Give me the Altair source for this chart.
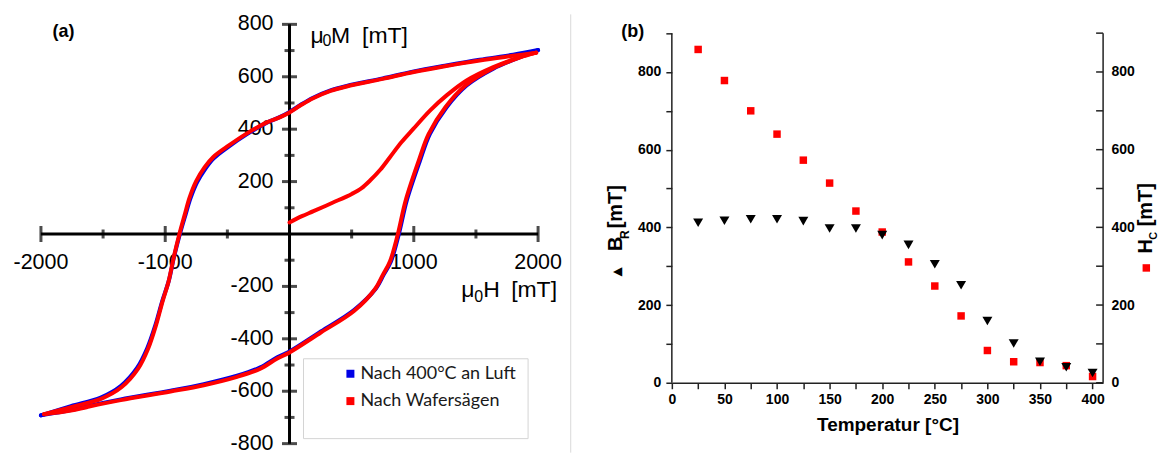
import altair as alt
import pandas as pd

FONT = "Liberation Sans"
BLUE = "#0000e6"
RED = "#ff0000"
AXC = "#222222"
S_BLUE = "Nach 400°C an Luft"
S_RED = "Nach Wafersägen"

# ---------------- panel (a): hysteresis loops ----------------
blue_up_H = [2000, 1800, 1530, 1250, 1000, 750, 460, 330, 190, 90, 0, -75, -182, -342, -503, -610,
             -676, -743, -797, -837, -882, -930, -971, -1024, -1078, -1144, -1225, -1358, -1519, -1759, -2000]
blue_up_M = [702, 684, 665, 642, 620, 594, 565, 548, 520, 493, 466, 447, 425, 381, 329, 289,
             250, 198, 136, 73, 0, -89, -178, -256, -346, -435, -510, -580, -624, -657, -692]
blue_lo_H = [-2000, -1759, -1626, -1358, -957, -690, -422, -235, -102, 0, 252, 519, 697, 757, 816,
             880, 943, 1050, 1130, 1264, 1425, 1640, 1854, 2000]
blue_lo_M = [-692, -672, -657, -631, -598, -573, -541, -509, -471, -448, -372, -290, -207, -156, -105,
             0, 127, 280, 382, 484, 567, 631, 675, 702]

red_up_H = [1985, 1800, 1530, 1250, 1000, 750, 460, 330, 190, 90, 0, -75, -182, -342, -503, -615,
            -684, -752, -805, -843, -886, -932, -972, -1022, -1074, -1138, -1218, -1350, -1512, -1750, -1975]
red_up_M = [692, 680, 662, 640, 618, 592, 563, 546, 518, 491, 464, 446, 426, 384, 333, 293,
            254, 201, 138, 74, 0, -90, -179, -258, -348, -438, -514, -584, -628, -660, -688]
red_lo_H = [-1975, -1759, -1626, -1358, -957, -690, -422, -235, -102, 0, 252, 519, 690, 750, 808,
            872, 934, 1040, 1120, 1254, 1415, 1630, 1850, 1985]
red_lo_M = [-688, -674, -660, -634, -601, -577, -545, -514, -476, -452, -376, -294, -209, -157, -105,
            0, 127, 280, 382, 484, 567, 631, 673, 692]
red_virgin_H = [0, 100, 193, 350, 501, 580, 648, 730, 808, 900, 996, 1130, 1264, 1425, 1640, 1854, 1985]
red_virgin_M = [44, 68, 87, 120, 153, 175, 204, 245, 293, 350, 401, 471, 529, 586, 637, 675, 692]

x_major = [-2000, -1000, 1000, 2000]
x_minor = [-1500, -500, 500, 1500]
y_major = [800, 600, 400, 200, -200, -400, -600, -800]
y_minor = [700, 500, 300, 100, -100, -300, -500, -700]
x_labels = ["-2000", "-1000", "1000", "2000"]
y_labels = ["800", "600", "400", "200", "-200", "-400", "-600", "-800"]

# ---------------- panel (b): remanence / coercivity ----------------
temps = [25, 50, 75, 100, 125, 150, 175, 200, 225, 250, 275, 300, 325, 350, 375, 400]
hc_vals = [858, 778, 700, 640, 573, 514, 442, 388, 311, 249, 172, 83, 54, 52, 44, 16]
br_vals = [412, 417, 421, 421, 416, 397, 397, 380, 355, 305, 251, 159, 101, 54, 40, 25]
x_ticks_b = [0, 25, 50, 75, 100, 125, 150, 175, 200, 225, 250, 275, 300, 325, 350, 375, 400]
y_ticks_b = [0, 100, 200, 300, 400, 500, 600, 700, 800, 900]


def branch(series, name, H, M):
    return [{"series": series, "branch": name, "i": i, "H": h, "M": m}
            for i, (h, m) in enumerate(zip(H, M))]


blue_df = pd.DataFrame(branch(S_BLUE, "up", blue_up_H, blue_up_M) +
                       branch(S_BLUE, "lo", blue_lo_H, blue_lo_M))
red_df = pd.DataFrame(branch(S_RED, "up", red_up_H, red_up_M) +
                      branch(S_RED, "lo", red_lo_H, red_lo_M) +
                      branch(S_RED, "virgin", red_virgin_H, red_virgin_M))

AW, AH = 498, 420
xa = alt.Scale(domain=[-2000, 2000], nice=False, zero=False)
ya = alt.Scale(domain=[-800, 800], nice=False, zero=False)
XA = alt.X("H:Q", scale=xa, axis=None)
YA = alt.Y("M:Q", scale=ya, axis=None)

color = alt.Color("series:N", scale=alt.Scale(domain=[S_BLUE, S_RED], range=[BLUE, RED]),
                  legend=None)


def curve(df):
    return alt.Chart(df).mark_line(strokeWidth=4, interpolate="catmull-rom",
                                   strokeCap="round", strokeJoin="round").encode(
        x=XA, y=YA, color=color, detail="branch:N", order="i:Q")


def one():
    return pd.DataFrame({"a": [0]})


def note(text, x, y, size, weight="normal", align="left", baseline="alphabetic",
         angle=0, font=FONT, color="black"):
    return alt.Chart(one()).mark_text(
        text=text, x=x, y=y, fontSize=size, fontWeight=weight, align=align,
        baseline=baseline, angle=angle, font=font, color=color)


axis_x_line = alt.Chart(pd.DataFrame({"H": [-2000], "H2": [2000], "M": [0]})).mark_rule(
    color="black", strokeWidth=3).encode(x=XA, x2="H2:Q", y=YA)
axis_y_line = alt.Chart(pd.DataFrame({"H": [0], "M": [-800], "M2": [800]})).mark_rule(
    color="black", strokeWidth=3).encode(x=XA, y=YA, y2="M2:Q")
xt_major = alt.Chart(pd.DataFrame({"H": x_major, "M": [0] * len(x_major)})).mark_tick(
    orient="vertical", size=16, thickness=3, color="black").encode(x=XA, y=YA)
xt_minor = alt.Chart(pd.DataFrame({"H": x_minor, "M": [0] * len(x_minor)})).mark_tick(
    orient="vertical", size=9, thickness=3, color="black").encode(x=XA, y=YA)
yt_major = alt.Chart(pd.DataFrame({"H": [0] * len(y_major), "M": y_major})).mark_tick(
    orient="horizontal", size=15, thickness=3, color="black").encode(x=XA, y=YA)
yt_minor = alt.Chart(pd.DataFrame({"H": [0] * len(y_minor), "M": y_minor})).mark_tick(
    orient="horizontal", size=10, thickness=3, color="black").encode(x=XA, y=YA)
xlab = alt.Chart(pd.DataFrame({"H": x_major, "M": [0] * 4, "lab": x_labels})).mark_text(
    dy=29, fontSize=21.5, font=FONT, color="black", baseline="middle").encode(
    x=XA, y=YA, text="lab:N")
ylab = alt.Chart(pd.DataFrame({"H": [0] * 8, "M": y_major, "lab": y_labels})).mark_text(
    dx=-16, fontSize=21.5, font=FONT, color="black", align="right", baseline="middle").encode(
    x=XA, y=YA, text="lab:N")

legend_box = alt.Chart(one()).mark_rect(
    x=263, x2=488, y=335, y2=415, fill="white", stroke="#d4d4d4", strokeWidth=1)
leg_blue = alt.Chart(one()).mark_point(shape="square", filled=True, size=64, color=BLUE,
                                       opacity=1, x=310, y=350)
leg_red = alt.Chart(one()).mark_point(shape="square", filled=True, size=64, color=RED,
                                      opacity=1, x=310, y=377.4)
separator = alt.Chart(one()).mark_rule(color="#d9d9d9", strokeWidth=1).encode(
    x=alt.value(530.7), y=alt.value(-10), y2=alt.value(429))

panel_a = alt.layer(
    separator, axis_x_line, axis_y_line, xt_major, xt_minor, yt_major, yt_minor, xlab, ylab,
    curve(blue_df), curve(red_df), legend_box, leg_blue, leg_red,
    note(S_BLUE, 320, 350, 18, baseline="middle", font="Lato", color="#1a1a1a"),
    note(S_RED, 320, 377.4, 18, baseline="middle", font="Lato", color="#1a1a1a"),
    note("(a)", 22.5, 7.7, 18, weight="bold", align="center", baseline="middle"),
    note("μ", 270, 18.4, 23), note("0", 282, 21.9, 16), note("M", 290.5, 18.4, 23),
    note("[mT]", 321.7, 18.4, 23),
    note("μ", 421, 273.4, 23), note("0", 434, 278.4, 16), note("H", 443, 273.4, 23),
    note("[mT]", 471, 273.4, 23),
).properties(width=AW, height=AH)

# ---------------- panel (b) ----------------
BW, BH = 432, 359
YMAX = 922.6
xb = alt.Scale(domain=[0, 410], nice=False, zero=False)
yb = alt.Scale(domain=[0, YMAX], nice=False, zero=False)
XB = alt.X("T:Q", scale=xb, axis=alt.Axis(
    values=x_ticks_b, labelExpr="datum.value % 50 === 0 ? datum.label : ''",
    title="Temperatur [°C]", titleFont=FONT, titleFontSize=19, titleFontWeight="bold",
    titleColor="black", titlePadding=9, labelFont=FONT, labelFontSize=14,
    labelFontWeight="bold", labelColor="black", labelPadding=4, tickSize=6, tickWidth=1.5,
    tickColor=AXC, domainColor=AXC, domainWidth=1.5, grid=False, labelFlush=False))
label_expr_y = "datum.value % 200 === 0 && datum.value <= 800 ? datum.label : ''"
left_axis = alt.Axis(orient="left", values=y_ticks_b, labelExpr=label_expr_y, title=None,
                     domain=False, grid=False, tickSize=6, tickWidth=1.5, tickColor=AXC,
                     labelFont=FONT, labelFontSize=14, labelFontWeight="bold",
                     labelColor="black", labelPadding=5)
right_axis = alt.Axis(orient="right", values=y_ticks_b, labelExpr=label_expr_y, title=None,
                      domain=False, grid=False, ticks=False, tickSize=0,
                      labelFont=FONT, labelFontSize=14, labelFontWeight="bold",
                      labelColor="black", labelPadding=8)

dfb = pd.DataFrame({"T": temps, "Hc": hc_vals, "Br": br_vals})
squares = alt.Chart(dfb).mark_point(shape="square", filled=True, size=56, color=RED,
                                    opacity=1).encode(
    x=XB, y=alt.Y("Hc:Q", scale=yb, axis=right_axis))
triangles = alt.Chart(dfb).mark_point(shape="triangle-down", filled=True, size=100,
                                      color="black", opacity=1).encode(
    x=XB, y=alt.Y("Br:Q", scale=yb, axis=left_axis))
frame_lines = alt.Chart(pd.DataFrame({"T": [0, 410], "v": [0, 0], "v2": [900, 900]})).mark_rule(
    color=AXC, strokeWidth=1.5).encode(
    x=XB, y=alt.Y("v:Q", scale=yb, axis=None), y2="v2:Q")
right_ticks = alt.Chart(pd.DataFrame({"T": [410] * len(y_ticks_b), "v": y_ticks_b})).mark_rule(
    color=AXC, strokeWidth=1.5, x2Offset=-7).encode(
    x=XB, x2="T:Q", y=alt.Y("v:Q", scale=yb, axis=None))
sq_marker = alt.Chart(one()).mark_point(shape="square", filled=True, size=56,
                                        color=RED, opacity=1, x=475.3, y=244)

panel_b = alt.layer(
    squares, triangles, frame_lines, right_ticks,
    note("(b)", -39.2, 7.7, 18, weight="bold", align="center", baseline="middle"),
    note("◀", -54.4, 247, 12, align="center", baseline="middle", font="DejaVu Sans"),
    note("B", -55.7, 219.7, 20, weight="bold", align="center", baseline="middle", angle=270),
    note("R", -46.7, 210.7, 12, weight="bold", align="center", baseline="middle", angle=270),
    note("[mT]", -55.7, 182.7, 20, weight="bold", align="center", baseline="middle", angle=270),
    note("H", 475.3, 222.2, 20, weight="bold", align="center", baseline="middle", angle=270),
    note("C", 482.8, 211.7, 11, weight="bold", align="center", baseline="middle", angle=270),
    note("[mT]", 475.3, 180.7, 20, weight="bold", align="center", baseline="middle", angle=270),
    sq_marker,
).resolve_scale(y="independent").properties(width=BW, height=BH)

chart = alt.hconcat(panel_a, panel_b, spacing=134, bounds="flush").configure_view(
    stroke=None).properties(background="white",
                            padding={"left": 5, "top": 5, "right": 0, "bottom": 0})

chart.save("out.html", embed_options={"renderer": "svg", "actions": False})
